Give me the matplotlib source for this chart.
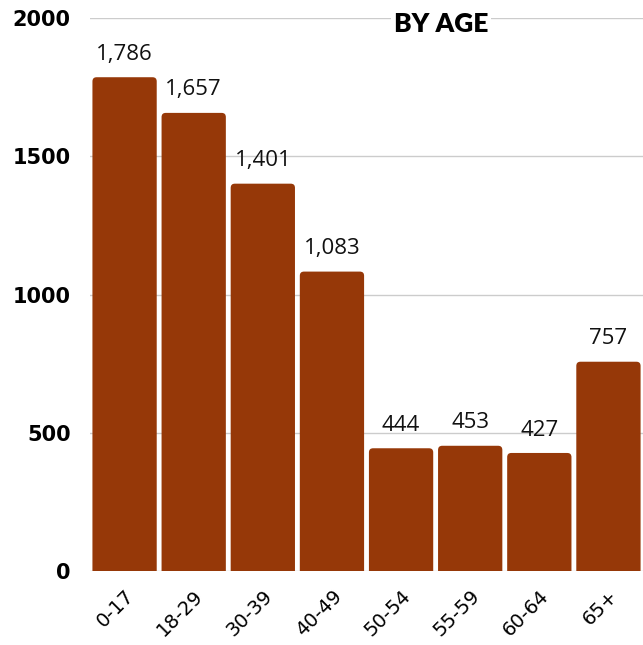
import matplotlib.pyplot as plt
from matplotlib.patches import FancyBboxPatch

# age group counts
age_groups = ['0-17', '18-29', '30-39', '40-49', '50-54', '55-59', '60-64', '65+']
counts = [1786, 1657, 1401, 1083, 444, 453, 427, 757]
y_ticks = [0, 500, 1000, 1500, 2000]

bar_color = '#963808'

fig = plt.figure(figsize=(6.43, 6.45), dpi=100)
ax = fig.add_axes([0.14, 0.1147, 0.86, 0.8573])

bars = ax.bar(range(len(age_groups)), counts, width=0.93, color=bar_color, zorder=2)

# swap plain rectangles for slightly rounded ones
for b in bars:
    b.set_visible(False)
    x0, w, h = b.get_x(), b.get_width(), b.get_height()
    box = FancyBboxPatch((x0, -40), w, h + 40,
                         boxstyle='round,pad=0,rounding_size=0.06',
                         mutation_aspect=250, facecolor=bar_color,
                         edgecolor='none', zorder=2)
    ax.add_patch(box)

for i, v in enumerate(counts):
    ax.text(i, v + 45, f'{v:,}', ha='center', va='bottom',
            fontsize=16, family=['Open Sans', 'DejaVu Sans'], color='#111111')

ax.set_xlim(-0.5, len(age_groups) - 0.5)
ax.set_ylim(0, 2000)
ax.set_yticks(y_ticks)
ax.set_yticklabels([str(t) for t in y_ticks], fontsize=15, fontweight='bold',
                   family='DejaVu Sans')
ax.set_xticks(range(len(age_groups)))
ax.set_xticklabels(age_groups, rotation=45, ha='right', rotation_mode='anchor',
                   fontsize=14, family='DejaVu Sans')
ax.tick_params(axis='both', length=0)
ax.tick_params(axis='y', pad=14)
ax.tick_params(axis='x', pad=11)

ax.grid(axis='y', color='#cccccc', linewidth=1, zorder=0)
for s in ax.spines.values():
    s.set_visible(False)

ax.text(0.635, 0.99, 'BY AGE', transform=ax.transAxes, ha='center', va='center',
        fontsize=19, fontweight='heavy', family=['Lato', 'DejaVu Sans'],
        bbox=dict(facecolor='white', edgecolor='none', pad=2), zorder=5)

fig.savefig('out.png', dpi=100)
